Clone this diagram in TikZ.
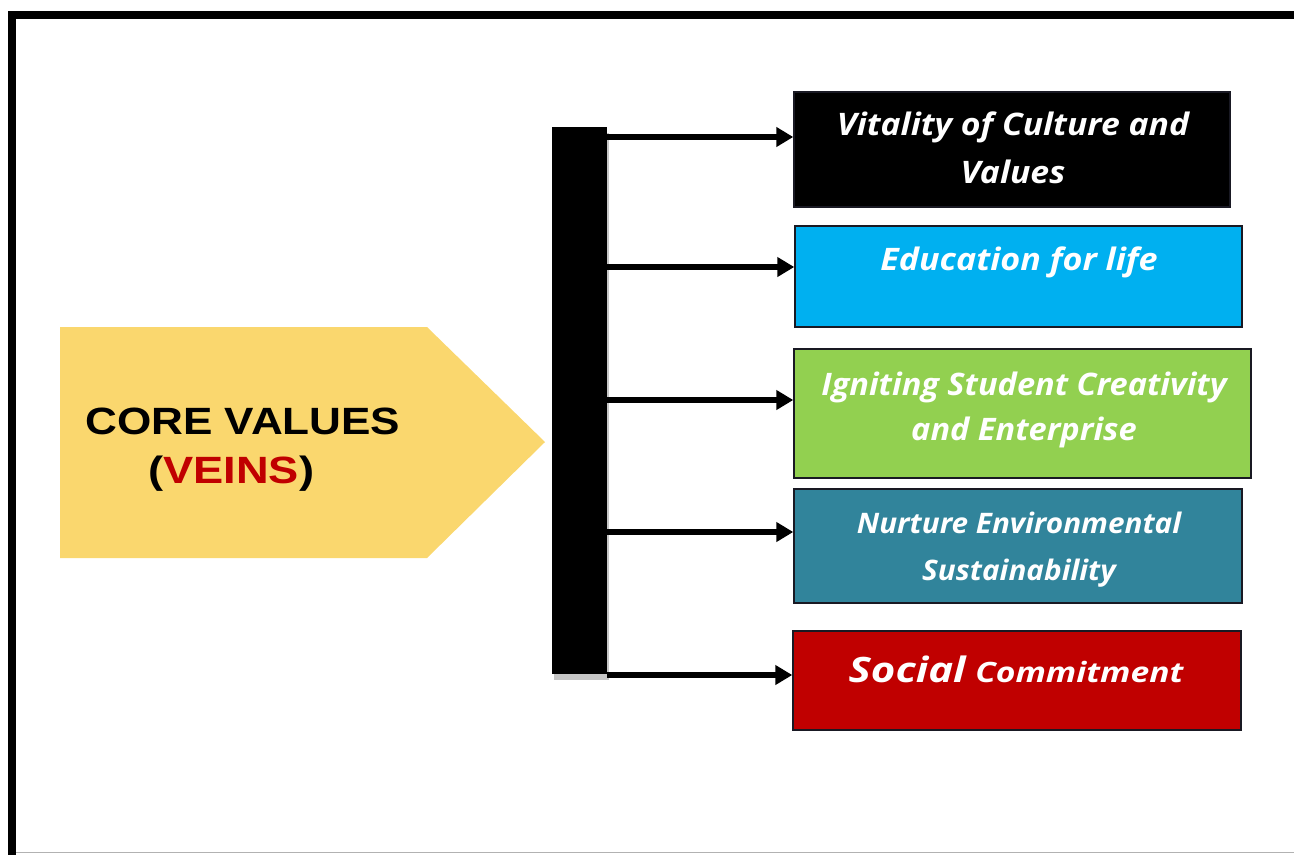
\documentclass[tikz,border=0pt]{standalone}
\usepackage{fontspec}
\setmainfont{Open Sans}
\newfontfamily\arialfont{Liberation Sans}
\usetikzlibrary{arrows.meta}
\definecolor{cvyellow}{RGB}{250,215,110}
\definecolor{cvred}{RGB}{192,0,0}
\definecolor{cvblue}{RGB}{0,176,240}
\definecolor{cvgreen}{RGB}{146,208,80}
\definecolor{cvteal}{RGB}{49,132,155}
\definecolor{cvedge}{RGB}{25,25,35}
\newcommand{\cvwide}[2]{\scalebox{#1}[1]{#2}}
\begin{document}
\begin{tikzpicture}[x=0.75pt,y=-0.75pt,
  valbox/.style={draw=cvedge,line width=1.1pt,inner sep=0pt},
  txt/.style={text=white,inner sep=0pt,anchor=base,
    font=\bfseries\itshape\fontsize{23.25}{28}\selectfont},
  coretxt/.style={inner sep=0pt,anchor=base west,
    font=\arialfont\bfseries\fontsize{28.5}{34}\selectfont},
  arr/.style={line width=4.5pt,-{Triangle[length=12.75pt,width=14.25pt]}}]
\useasboundingbox (0,0) rectangle (1294,854);
\clip (0,0) rectangle (1294,854);
% frame
\draw[line width=6pt,miter limit=10] (12,870) -- (12,15) -- (1310,15);
\draw[gray!60,line width=0.8pt] (16,852.6) -- (1300,852.6);
% pentagon arrow
\fill[cvyellow] (60,327) -- (427,327) -- (545,442) -- (427,558) -- (60,558) -- cycle;
\node[coretxt] (core) at (85,434) {\cvwide{1.16}{CORE VALUES}};
\node[coretxt] (veins) at (148,483) {\cvwide{1.19}{(\textcolor{cvred}{VEINS})}};
% bar with shadow
\fill[gray!45] (554,133) rectangle (609,680);
\node[fill=black,inner sep=0pt,minimum width=41.25pt,minimum height=410.25pt] (bar) at (579.5,400.5) {};
% boxes
\node[valbox,fill=black,minimum width=327pt,minimum height=86.25pt] (b1) at (1012,149.5) {};
\node[valbox,fill=cvblue,minimum width=335.25pt,minimum height=75.75pt] (b2) at (1018.5,276.5) {};
\node[valbox,fill=cvgreen,minimum width=342.75pt,minimum height=96.75pt] (b3) at (1022.5,413.5) {};
\node[valbox,fill=cvteal,minimum width=336pt,minimum height=85.5pt] (b4) at (1018,546) {};
\node[valbox,fill=cvred,minimum width=336pt,minimum height=74.25pt] (b5) at (1017,680.5) {};
% texts
\node[txt] (t1a) at (1013,135) {\cvwide{1.09}{Vitality of Culture and}};
\node[txt] (t1b) at (1013,183) {\cvwide{1.09}{Values}};
\node[txt] (t2) at (1019,270) {\cvwide{1.10}{Education for life}};
\node[txt] (t3a) at (1024,395) {\cvwide{1.05}{Igniting Student Creativity}};
\node[txt] (t3b) at (1024,440) {\cvwide{1.05}{and Enterprise}};
\node[txt,font=\bfseries\itshape\fontsize{21.2}{26}\selectfont] (t4a) at (1019,533) {\cvwide{1.05}{Nurture Environmental}};
\node[txt,font=\bfseries\itshape\fontsize{21.2}{26}\selectfont] (t4b) at (1019,580) {\cvwide{1.05}{Sustainability}};
\node[txt] (t5) at (1016,682) {\cvwide{1.2}{{\fontsize{26.25}{30}\selectfont Social} {\fontsize{21}{26}\selectfont Commitment}}};
% arrows
\coordinate (a1) at (600,137);
\coordinate (a2) at (600,267);
\coordinate (a3) at (600,400);
\coordinate (a4) at (600,532);
\coordinate (a5) at (600,675);
\draw[arr] (bar.east |- a1) -- (b1.west |- a1);
\draw[arr] (bar.east |- a2) -- (b2.west |- a2);
\draw[arr] (bar.east |- a3) -- (b3.west |- a3);
\draw[arr] (bar.east |- a4) -- (b4.west |- a4);
\draw[arr] (bar.east |- a5) -- (b5.west |- a5);
\end{tikzpicture}
\end{document}
